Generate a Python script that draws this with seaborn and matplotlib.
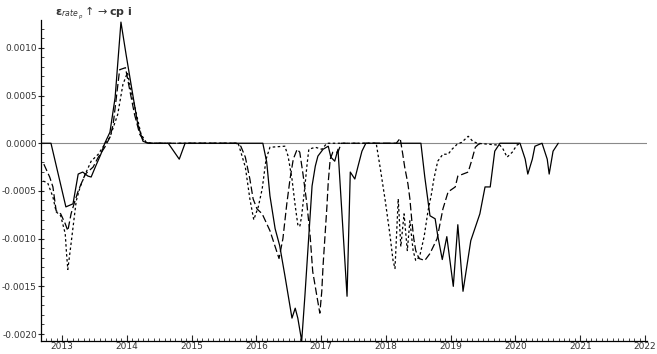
import numpy as np
import pandas as pd
import matplotlib
matplotlib.use("Agg")
import matplotlib.pyplot as plt
import seaborn as sns
from matplotlib.ticker import MultipleLocator, FormatStrFormatter

# values are in units of 1e-4
UNIT = 1e-4

solid_t = [2012.68, 2012.83, 2013.06, 2013.17, 2013.25, 2013.32, 2013.40, 2013.45, 2013.52, 2013.60,
           2013.66, 2013.74, 2013.82, 2013.91, 2013.99, 2014.10, 2014.17, 2014.25, 2014.33, 2014.64,
           2014.81, 2014.90, 2016.10, 2016.16, 2016.21, 2016.29, 2016.36, 2016.44, 2016.55, 2016.60,
           2016.64, 2016.70, 2016.75, 2016.80, 2016.86, 2016.91, 2016.95, 2017.03, 2017.11, 2017.15,
           2017.21, 2017.26, 2017.40, 2017.45, 2017.52, 2017.57, 2017.63, 2017.69, 2018.54, 2018.60,
           2018.68, 2018.76, 2018.80, 2018.87, 2018.94, 2019.04, 2019.11, 2019.19, 2019.31, 2019.45,
           2019.53, 2019.61, 2019.68, 2019.76, 2020.07, 2020.15, 2020.19, 2020.26, 2020.30, 2020.41,
           2020.49, 2020.52, 2020.58, 2020.66]
solid_v = [0.0, 0.0, -6.67, -6.35, -3.23, -3.02, -3.44, -3.54, -2.40, -1.15,
           0.0, 1.15, 4.79, 12.7, 9.27, 4.79, 1.98, 0.21, 0.0, 0.0,
           -1.67, 0.0, 0.0, -1.98, -5.52, -8.96, -10.73, -13.85, -18.33, -17.29,
           -18.33, -20.73, -15.94, -10.73, -4.48, -2.40, -1.35, -0.63, -0.31, -1.46,
           -1.88, -0.63, -16.04, -3.02, -3.75, -2.40, -0.83, 0.0, 0.0, -3.54,
           -7.60, -7.92, -9.69, -12.19, -9.79, -15.00, -8.54, -15.52, -10.21, -7.40,
           -4.58, -4.58, -0.83, 0.0, 0.0, -1.67, -3.23, -1.67, -0.31, 0.0,
           -1.67, -3.23, -0.83, 0.0]

dashed_t = [2012.72, 2012.81, 2012.86, 2012.91, 2012.98, 2013.05, 2013.09, 2013.14, 2013.20, 2013.25,
            2013.36, 2013.48, 2013.56, 2013.66, 2013.74, 2013.79, 2013.89, 2013.98, 2014.05, 2014.12,
            2014.20, 2014.28, 2014.36, 2015.69, 2015.76, 2015.83, 2015.90, 2015.95, 2016.01, 2016.09,
            2016.21, 2016.29, 2016.35, 2016.41, 2016.47, 2016.52, 2016.57, 2016.63, 2016.67, 2016.72,
            2016.78, 2016.83, 2016.87, 2016.94, 2016.98, 2017.01, 2017.03, 2017.06, 2017.09, 2017.11,
            2017.14, 2017.18, 2017.26, 2017.31, 2018.16, 2018.22, 2018.26, 2018.29, 2018.34, 2018.37,
            2018.40, 2018.43, 2018.46, 2018.51, 2018.60, 2018.68, 2018.79, 2018.88, 2018.96, 2019.07,
            2019.11, 2019.19, 2019.27, 2019.33, 2019.38, 2019.43, 2019.49]
dashed_v = [-2.19, -3.54, -4.58, -7.08, -7.40, -8.44, -9.17, -7.40, -6.04, -5.00,
            -3.23, -2.50, -1.46, -0.42, 0.63, 1.98, 7.71, 7.92, 5.42, 3.02,
            0.94, 0.10, 0.0, 0.0, -0.31, -1.46, -3.75, -5.83, -6.88, -7.40,
            -9.17, -10.83, -12.08, -10.00, -6.35, -3.75, -1.67, -0.63, -0.94, -3.23,
            -6.35, -9.69, -13.44, -16.25, -17.81, -15.52, -12.81, -9.69, -6.56, -4.06,
            -1.67, -0.94, -0.94, 0.0, 0.0, 0.52, -1.15, -2.50, -4.27, -5.83,
            -8.13, -10.00, -11.25, -12.08, -12.29, -11.56, -10.00, -6.88, -5.10, -4.58,
            -3.44, -3.23, -3.02, -1.67, -0.42, -0.10, 0.0]

dotted_t = [2012.71, 2012.78, 2012.86, 2012.91, 2012.98, 2013.05, 2013.07, 2013.09, 2013.14, 2013.19,
            2013.22, 2013.28, 2013.36, 2013.45, 2013.56, 2013.66, 2013.74, 2013.86, 2013.94, 2014.01,
            2014.07, 2014.15, 2014.22, 2014.30, 2014.39, 2015.72, 2015.83, 2015.90, 2015.96, 2016.03,
            2016.09, 2016.15, 2016.21, 2016.44, 2016.49, 2016.55, 2016.60, 2016.64, 2016.67, 2016.70,
            2016.75, 2016.78, 2016.81, 2016.91, 2017.01, 2017.09, 2017.85, 2017.91, 2017.99, 2018.06,
            2018.11, 2018.14, 2018.19, 2018.23, 2018.28, 2018.33, 2018.37, 2018.42, 2018.46, 2018.52,
            2018.59, 2018.65, 2018.70, 2018.74, 2018.80, 2018.88, 2018.96, 2019.02, 2019.10, 2019.17,
            2019.27, 2019.34, 2019.41, 2019.76, 2019.81, 2019.87, 2019.95, 2020.02, 2020.07]
dotted_v = [-3.96, -4.17, -5.63, -7.19, -7.60, -9.48, -11.56, -13.23, -10.52, -7.71,
            -6.04, -4.58, -3.23, -1.88, -1.15, -0.10, 0.63, 3.02, 6.15, 7.40,
            5.42, 3.02, 0.94, 0.10, 0.0, 0.0, -2.50, -5.83, -8.02, -6.67,
            -4.79, -1.67, -0.42, -0.31, -1.35, -3.75, -6.56, -8.54, -8.75, -7.60,
            -4.48, -2.40, -0.63, -0.42, -0.63, 0.0, 0.0, -2.50, -6.04, -9.48,
            -12.29, -13.13, -5.83, -10.83, -7.40, -11.25, -8.13, -11.25, -12.29, -11.88,
            -9.79, -7.08, -5.42, -3.75, -1.88, -1.15, -1.15, -0.63, -0.10, 0.10,
            0.73, 0.21, 0.0, -0.21, -0.63, -1.46, -0.94, -0.21, 0.0]

x_major = [2013, 2014, 2015, 2016, 2017, 2018, 2019, 2020, 2021, 2022]
y_major = [-0.0020, -0.0015, -0.0010, -0.0005, 0.0, 0.0005, 0.0010]

sns.set_style("ticks")
plt.rcParams["font.family"] = ["DejaVu Sans"]

W, H = 657, 354
fig = plt.figure(figsize=(W / 100, H / 100), dpi=100)
L, R, T, B = 41, 647, 20, 341
ax = fig.add_axes([L / W, 1 - B / H, (R - L) / W, (B - T) / H])

ax.axhline(0, color="#8a8a8a", lw=0.8, zorder=1)

series = [
    ("solid", solid_t, solid_v, "-"),
    ("dashed", dashed_t, dashed_v, (0, (6, 2.5))),
    ("dotted", dotted_t, dotted_v, (0, (2, 2))),
]
for name, t, v, ls in series:
    df = pd.DataFrame({"t": t, "v": np.array(v) * UNIT})
    n0 = len(ax.lines)
    sns.lineplot(data=df, x="t", y="v", ax=ax, estimator=None, sort=False,
                 color="black", lw=0.9, zorder=3)
    for ln in ax.lines[n0:]:
        ln.set_linestyle(ls)

ax.set_xlim(2012.676, 2022.03)
ax.set_ylim(-0.002073, 0.001292)
ax.set_xlabel("")
ax.set_ylabel("")

ax.set_xticks(x_major)
ax.xaxis.set_minor_locator(MultipleLocator(1 / 12))
ax.set_yticks(y_major)
ax.yaxis.set_minor_locator(MultipleLocator(0.0001))
ax.yaxis.set_major_formatter(FormatStrFormatter("%.4f"))

for s in ["top", "right"]:
    ax.spines[s].set_visible(False)
for s in ["left", "bottom"]:
    ax.spines[s].set_color("black")
    ax.spines[s].set_linewidth(0.9)

ax.tick_params(axis="x", which="major", direction="in", length=4, width=0.8,
               labelsize=6.5, pad=0.5, labelcolor="#333333")
ax.tick_params(axis="x", which="minor", direction="in", length=2, width=0.6)
ax.tick_params(axis="y", which="major", direction="inout", length=5, width=0.8,
               labelsize=6.5, pad=0.5, labelcolor="#333333")
ax.tick_params(axis="y", which="minor", direction="in", length=2, width=0.6)

fig.text(55 / W, 1 - 13 / H,
         r"$\mathbf{\varepsilon}_{rate_{\,p}}\uparrow\rightarrow\mathbf{cp\ i}$",
         fontsize=8, color="#333333", va="center", ha="left")

fig.savefig("out.png", dpi=100, facecolor="white")
